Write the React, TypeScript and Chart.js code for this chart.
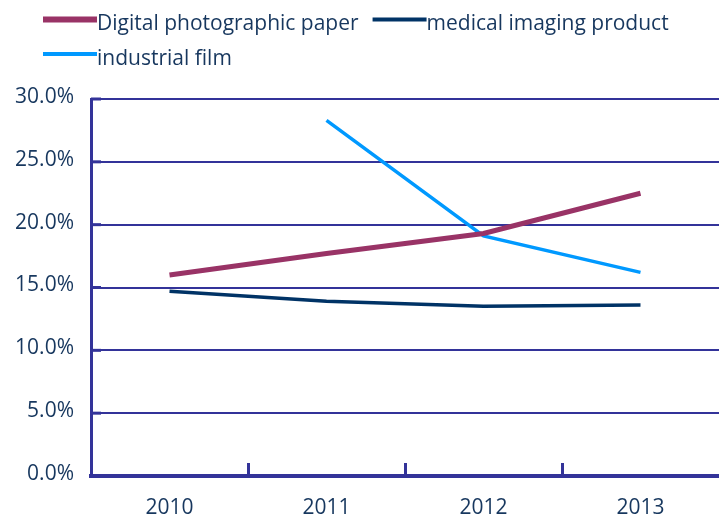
import React, { useEffect, useRef } from 'react';
import { Chart, registerables } from 'chart.js';

Chart.register(...registerables);

const categories = ['2010', '2011', '2012', '2013'];
const seriesNames = ['Digital photographic paper', 'medical imaging product', 'industrial film'];
const digitalPaper = [16.0, 17.7, 19.3, 22.5];
const medicalImaging = [14.7, 13.9, 13.5, 13.6];
const industrialFilm = [null, 28.3, 19.1, 16.2];
const yMin = 0;
const yMax = 30;
const yStep = 5;

const FONT = '"Open Sans", sans-serif';
const AXIS = '#333399';
const TEXT = '#17375E';
const COLORS = ['#993366', '#003366', '#0099FF'];
const WIDTHS = [5, 3.5, 3.5];
const LEGEND_WIDTHS = [6, 4, 4];

const legendPlugin = {
  id: 'customLegend',
  afterDraw(chart: any) {
    const ctx = chart.ctx;
    ctx.save();
    ctx.font = `21px ${FONT}`;
    ctx.textBaseline = 'alphabetic';
    ctx.textAlign = 'left';
    const startX = 43;
    const lineLen = 54;
    const gap = 14;
    let x = startX;
    let row = 0;
    chart.data.datasets.forEach((ds: any, i: number) => {
      const tw = ctx.measureText(ds.label).width;
      if (x + lineLen + tw > chart.width && x > startX) {
        row++;
        x = startX;
      }
      const base = 30 + row * 34.5;
      ctx.strokeStyle = ds.borderColor;
      ctx.lineWidth = LEGEND_WIDTHS[i];
      ctx.beginPath();
      ctx.moveTo(x, base - 10.5);
      ctx.lineTo(x + lineLen, base - 10.5);
      ctx.stroke();
      ctx.fillStyle = TEXT;
      ctx.fillText(ds.label, x + lineLen, base);
      x += lineLen + tw + gap;
    });
    ctx.restore();
  },
};

const axisTicksPlugin = {
  id: 'innerTicks',
  afterDraw(chart: any) {
    const ctx = chart.ctx;
    const xs = chart.scales.x;
    const ys = chart.scales.y;
    const area = chart.chartArea;
    ctx.save();
    ctx.strokeStyle = AXIS;
    ctx.lineWidth = 3;
    for (let i = 0; i < categories.length - 1; i++) {
      const px = Math.round((xs.getPixelForValue(i) + xs.getPixelForValue(i + 1)) / 2) + 0.5;
      ctx.beginPath();
      ctx.moveTo(px, area.bottom);
      ctx.lineTo(px, area.bottom - 13);
      ctx.stroke();
    }
    ys.ticks.forEach((t: any) => {
      const py = ys.getPixelForValue(t.value);
      ctx.beginPath();
      ctx.moveTo(area.left, py);
      ctx.lineTo(area.left + 10, py);
      ctx.stroke();
    });
    ctx.restore();
  },
};

export default function App() {
  const ref = useRef<HTMLCanvasElement>(null);
  useEffect(() => {
    document.body.style.margin = '0';
    const canvas = ref.current!;
    const chart = new Chart(canvas, {
      type: 'line',
      data: {
        labels: categories,
        datasets: [digitalPaper, medicalImaging, industrialFilm].map((d, i) => ({
          label: seriesNames[i],
          data: d,
          borderColor: COLORS[i],
          backgroundColor: COLORS[i],
          borderWidth: WIDTHS[i],
          pointRadius: 0,
          tension: 0,
          fill: false,
          spanGaps: false,
        })),
      },
      options: {
        animation: false,
        responsive: false,
        devicePixelRatio: 1,
        layout: { padding: { top: 99, left: 0, right: 0, bottom: 0 } },
        plugins: {
          legend: { display: false },
          tooltip: { enabled: false },
        },
        scales: {
          x: {
            offset: true,
            grid: { display: false, drawTicks: false },
            border: { display: true, color: AXIS, width: 4 },
            ticks: { color: TEXT, font: { family: FONT, size: 21 }, padding: 19, maxRotation: 0 },
            afterFit: (s: any) => {
              s.height = 40;
            },
          },
          y: {
            min: yMin,
            max: yMax,
            grid: { color: AXIS, lineWidth: 2, drawTicks: false },
            border: { display: true, color: AXIS, width: 3 },
            ticks: {
              stepSize: yStep,
              color: TEXT,
              font: { family: FONT, size: 21 },
              padding: 17,
              labelOffset: -2,
              callback: (v: any) => Number(v).toFixed(1) + '%',
            },
            afterFit: (s: any) => {
              s.width = 91;
            },
          },
        },
      },
      plugins: [legendPlugin, axisTicksPlugin],
    });
    return () => chart.destroy();
  }, []);
  return (
    <div style={{ position: 'absolute', left: 0, top: 0, width: 719, height: 516 }}>
      <canvas ref={ref} width={719} height={516} />
    </div>
  );
}
